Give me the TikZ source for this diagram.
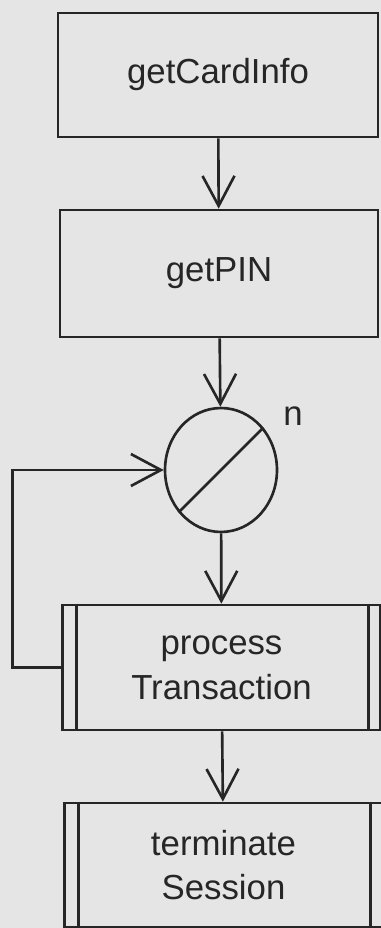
\documentclass[tikz,border=0pt]{standalone}
\usepackage{fontspec}
\setmainfont{Liberation Sans}
\usetikzlibrary{arrows.meta,shapes.geometric}
\colorlet{paper}{black!10}
\colorlet{ink}{black!85}
\begin{document}
\begin{tikzpicture}[
    x=0.02cm, y=-0.02cm,
    >={Straight Barb[length=0.6cm,width=0.64cm]},
    line width=1.5pt,
    every node/.style={font=\fontsize{19.8}{25.5}\selectfont, text=ink},
    stepbox/.style={draw=ink, rectangle, align=center, minimum width=6.36cm, minimum height=2.5cm, inner sep=0pt},
    itercirc/.style={draw=ink, ellipse, minimum width=2.24cm, minimum height=2.48cm, inner sep=0pt}
  ]

    % Paper
    \fill[paper] (0,0) rectangle (381,928);
    \useasboundingbox (0,0) rectangle (381,928);

    % Steps
    \node[stepbox, minimum width=6.4cm, minimum height=2.48cm] (card) at (218,75) {getCardInfo};
    \node[stepbox, minimum height=2.54cm] (pin) at (219,273.5) {getPIN};

    % Iteration
    \node[itercirc] (rep) at (221,470) {};
    \draw[ink] (rep.225) -- (rep.45);
    \node (nmark) at (293,416) {n};

    % Sub-steps
    \node[stepbox] (proc) at (221.5,667.5) {process\\Transaction};
    \node[stepbox, minimum height=2.48cm] (term) at (223.5,865) {terminate\\Session};
    \foreach \b in {proc,term} {
      \draw[ink] ([xshift=0.3cm]\b.north west) -- ([xshift=0.3cm]\b.south west);
      \draw[ink] ([xshift=-0.27cm]\b.north east) -- ([xshift=-0.27cm]\b.south east);
    }

    % Flow
    \draw[->, ink] (card) -- (pin);
    \draw[->, ink] (pin) -- (rep);
    \draw[->, ink] (rep) -- (proc);
    \draw[->, ink] (proc) -- (term);

    % Loop back
    \draw[->, ink] (proc.west) -- ++(-49,0) |- (rep.west);

  \end{tikzpicture}
\end{document}
